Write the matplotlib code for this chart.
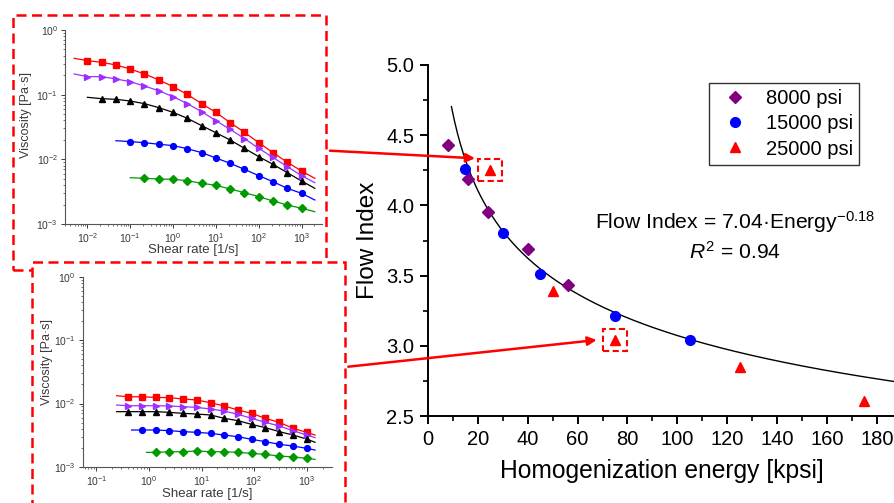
"""
Flow index vs homogenization energy, with two viscosity insets.
"""

import matplotlib
matplotlib.use("Agg")
import matplotlib.pyplot as plt
from matplotlib.patches import Rectangle, FancyArrowPatch
from matplotlib.ticker import MultipleLocator, LogLocator, NullFormatter, FixedLocator

plt.rcParams['font.family'] = ['Liberation Sans', 'DejaVu Sans']
plt.rcParams['mathtext.fontset'] = 'custom'
plt.rcParams['mathtext.rm'] = 'Liberation Sans'
plt.rcParams['mathtext.it'] = 'Liberation Sans:italic'
plt.rcParams['mathtext.bf'] = 'Liberation Sans:bold'

# =============================================================================
# DATA
# =============================================================================

# Main plot: flow index vs homogenization energy
ENERGY_8000 = [8, 16, 24, 40, 56]
FLOW_8000 = [4.43, 4.19, 3.95, 3.69, 3.43]
ENERGY_15000 = [15, 30, 45, 75, 105]
FLOW_15000 = [4.26, 3.80, 3.51, 3.21, 3.04]
ENERGY_25000 = [25, 50, 75, 125, 175]
FLOW_25000 = [4.25, 3.39, 3.04, 2.85, 2.61]
BOXED_25000 = [0, 2]          # points highlighted by a dashed box

FIT_A = 7.04
FIT_B = -0.18
FIT_RANGE = (9.4, 187)

LEGEND_LABELS = ["8000 psi", "15000 psi", "25000 psi"]

# Top inset: viscosity vs shear rate
TOP_SHEAR = [0.01, 0.0215, 0.0464, 0.1, 0.215, 0.464, 1, 2.15, 4.64, 10,
             21.5, 46.4, 100, 215, 464, 1000]
TOP_RED = [0.336, 0.316, 0.288, 0.249, 0.209, 0.169, 0.133, 0.101, 0.0726,
           0.0533, 0.0369, 0.0262, 0.0181, 0.0127, 0.0090, 0.0066]
TOP_PURPLE = [0.190, 0.190, 0.175, 0.159, 0.136, 0.115, 0.0931, 0.0726,
              0.0546, 0.0396, 0.0291, 0.0209, 0.0148, 0.0107, 0.0077, 0.0056]
TOP_BLACK = [0.0867, 0.0847, 0.0798, 0.0726, 0.0630, 0.0533, 0.0431, 0.0332,
             0.0258, 0.0199, 0.0148, 0.0110, 0.00837, 0.00622, 0.00462]
TOP_BLUE = [0.0188, 0.0181, 0.0171, 0.0163, 0.0146, 0.0127, 0.0105, 0.00867,
            0.00700, 0.00559, 0.00452, 0.00356, 0.00298]
TOP_GREEN = [0.00508, 0.00497, 0.00491, 0.00468, 0.00426, 0.00396, 0.00348,
             0.00305, 0.00265, 0.00227, 0.00197, 0.00175]
# fit lines: start point, and value at the common end shear rate
TOP_LINE_START = [(0.0049, 0.365), (0.0049, 0.209), (0.01, 0.091),
                  (0.0464, 0.0194), (0.1, 0.0052)]
TOP_LINE_END_X = 2040
TOP_LINE_END = [0.00508, 0.00435, 0.00356, 0.00235, 0.00155]
TOP_XTICKS = [1e-2, 1e-1, 1e0, 1e1, 1e2, 1e3]

# Bottom inset
BOT_SHEAR = [0.40, 0.74, 1.34, 2.44, 4.44, 8.07, 14.9, 27.1, 49.3, 89.7,
             163, 301, 548, 1000]
BOT_RED = [0.0128, 0.0128, 0.0125, 0.0124, 0.0118, 0.0114, 0.0103, 0.00915,
           0.00791, 0.00701, 0.00585, 0.00506, 0.00407, 0.00352]
BOT_PURPLE = [0.00925, 0.00925, 0.00925, 0.00915, 0.00893, 0.00871, 0.00820,
              0.00763, 0.00676, 0.00585, 0.00506, 0.00443, 0.00374, 0.00319]
BOT_BLACK = [0.00745, 0.00745, 0.00745, 0.00727, 0.00701, 0.00684, 0.00660,
             0.00585, 0.00537, 0.00470, 0.00417, 0.00361, 0.00319, 0.00276]
BOT_BLUE = [0.00383, 0.00383, 0.00374, 0.00361, 0.00352, 0.00339, 0.00319,
            0.00300, 0.00273, 0.00251, 0.00228, 0.00214, 0.00197]
BOT_GREEN = [0.00170, 0.00174, 0.00174, 0.00179, 0.00174, 0.00174, 0.00170,
             0.00164, 0.00158, 0.00149, 0.00144, 0.00137]
BOT_LINE_START = [(0.243, 0.0133), (0.243, 0.00948), (0.243, 0.00745),
                  (0.468, 0.00383), (0.90, 0.00170)]
BOT_LINE_END_X = 1440
BOT_LINE_END = [0.00319, 0.00290, 0.00245, 0.00185, 0.00132]
BOT_XTICKS = [1e-1, 1e0, 1e1, 1e2, 1e3]

INSET_YTICKS = [1e-3, 1e-2, 1e-1, 1e0]

# =============================================================================
# STYLE
# =============================================================================

W, H = 895, 503
RED = "#FF0000"
INSET_STYLES = [  # (color, marker) for red, purple, black, blue, green
    ("#FF0000", "s"),
    ("#9B30FF", ">"),
    ("#000000", "^"),
    ("#0000FF", "o"),
    ("#009A00", "D"),
]
TEXT_GREY = "#3a3a3a"


def px_rect(x0, y0, x1, y1):
    """Pixel box (top-left origin) -> figure fraction [l, b, w, h]."""
    return [x0 / W, 1 - y1 / H, (x1 - x0) / W, (y1 - y0) / H]


def draw_inset(fig, rect, xlim, xticks, shear, series, starts, end_x, ends,
               xlabel_y, ylabel_x, ylabel_y, zorder):
    ax = fig.add_axes(rect, zorder=zorder)
    ax.set_facecolor("none")
    ax.set_xscale("log")
    ax.set_yscale("log")
    ax.set_xlim(*xlim)
    ax.set_ylim(1e-3, 1.0)
    for side in ("top", "right"):
        ax.spines[side].set_visible(False)
    for side in ("left", "bottom"):
        ax.spines[side].set_linewidth(0.8)
        ax.spines[side].set_color("#555555")

    for (color, marker), vals, start, end in zip(INSET_STYLES, series,
                                                 starts, ends):
        xs = shear[len(shear) - len(vals):]
        ax.plot([start[0]] + list(xs) + [end_x], [start[1]] + list(vals) + [end],
                color=color, lw=0.9, zorder=2)
        ax.plot(xs, vals, ls="none", marker=marker, ms=4.2, color=color,
                zorder=3)

    ax.xaxis.set_major_locator(FixedLocator(xticks))
    ax.xaxis.set_minor_locator(LogLocator(base=10, subs=range(2, 10), numticks=20))
    ax.xaxis.set_minor_formatter(NullFormatter())
    ax.yaxis.set_major_locator(FixedLocator(INSET_YTICKS))
    ax.yaxis.set_minor_locator(LogLocator(base=10, subs=range(2, 10), numticks=20))
    ax.yaxis.set_minor_formatter(NullFormatter())
    ax.tick_params(which="major", direction="out", length=3, width=0.7,
                   labelsize=7.5, colors=TEXT_GREY, pad=2)
    ax.tick_params(which="minor", direction="out", length=1.6, width=0.5,
                   colors=TEXT_GREY)

    ax.set_xlabel("Shear rate [1/s]", fontsize=9.5, color=TEXT_GREY)
    ax.set_ylabel("Viscosity [Pa·s]", fontsize=9, color=TEXT_GREY)
    ax.xaxis.set_label_coords(0.5, xlabel_y)
    ax.yaxis.set_label_coords(ylabel_x, ylabel_y)
    return ax


def main():
    fig = plt.figure(figsize=(W / 100, H / 100), dpi=100)

    # --- dashed frames around the insets
    b1 = px_rect(12.7, 15, 326, 270)
    fig.add_artist(Rectangle((b1[0], b1[1]), b1[2], b1[3],
                             transform=fig.transFigure, fill=False,
                             edgecolor=RED, lw=1.8, ls=(0, (4, 2.2)), zorder=1))
    draw_inset(fig, px_rect(65, 30, 321.7, 224), (0.0030, 2950), TOP_XTICKS,
               TOP_SHEAR, [TOP_RED, TOP_PURPLE, TOP_BLACK, TOP_BLUE, TOP_GREEN],
               TOP_LINE_START, TOP_LINE_END_X, TOP_LINE_END,
               xlabel_y=-0.105, ylabel_x=-0.13, ylabel_y=0.56, zorder=2)

    b2 = px_rect(32, 261.5, 345.5, 530)
    fig.add_artist(Rectangle((b2[0], b2[1]), b2[2], b2[3],
                             transform=fig.transFigure, facecolor="white",
                             edgecolor=RED, lw=1.8, ls=(0, (4, 2.2)), zorder=3))
    draw_inset(fig, px_rect(82.7, 276.7, 331.7, 467), (0.055, 2985), BOT_XTICKS,
               BOT_SHEAR, [BOT_RED, BOT_PURPLE, BOT_BLACK, BOT_BLUE, BOT_GREEN],
               BOT_LINE_START, BOT_LINE_END_X, BOT_LINE_END,
               xlabel_y=-0.11, ylabel_x=-0.12, ylabel_y=0.55, zorder=4)

    # --- main plot
    ax = fig.add_axes(px_rect(428, 65, 895, 416), zorder=5)
    ax.set_facecolor("none")
    ax.set_xlim(0, 187.3)
    ax.set_ylim(2.5, 5.0)
    for side in ("top", "right"):
        ax.spines[side].set_visible(False)
    for side in ("left", "bottom"):
        ax.spines[side].set_linewidth(1.4)

    fit_x = [FIT_RANGE[0] + i * (FIT_RANGE[1] - FIT_RANGE[0]) / 300 for i in range(301)]
    fit_y = [FIT_A * x ** FIT_B for x in fit_x]
    ax.plot(fit_x, fit_y, color="black", lw=1.0, zorder=2)

    ax.plot(ENERGY_8000, FLOW_8000, ls="none", marker="D", ms=6.3,
            color="#800080", label=LEGEND_LABELS[0], zorder=3)
    ax.plot(ENERGY_15000, FLOW_15000, ls="none", marker="o", ms=7,
            color="#0000FF", label=LEGEND_LABELS[1], zorder=3)
    ax.plot(ENERGY_25000, FLOW_25000, ls="none", marker="^", ms=7.2,
            color=RED, label=LEGEND_LABELS[2], zorder=3)

    for i in BOXED_25000:
        bw, bh = 9.6, 0.157
        ax.add_patch(Rectangle((ENERGY_25000[i] - bw / 2, FLOW_25000[i] - bh / 2),
                               bw, bh, fill=False, edgecolor=RED, lw=1.5,
                               ls=(0, (3, 1.6)), zorder=4))

    ax.xaxis.set_major_locator(MultipleLocator(20))
    ax.xaxis.set_minor_locator(MultipleLocator(10))
    ax.yaxis.set_major_locator(MultipleLocator(0.5))
    ax.yaxis.set_minor_locator(MultipleLocator(0.25))
    ax.yaxis.set_major_formatter(plt.FormatStrFormatter("%.1f"))
    ax.tick_params(which="major", direction="out", length=6, width=1.4,
                   labelsize=14.5, pad=4)
    ax.tick_params(which="minor", direction="out", length=3.5, width=1.2)
    ax.set_xlabel("Homogenization energy [kpsi]", fontsize=17.7, labelpad=7)
    ax.set_ylabel("Flow Index", fontsize=17.5, labelpad=5)

    leg = ax.legend(loc="upper left", bbox_to_anchor=((709 - 428) / 467, (416 - 83) / 351),
                    borderaxespad=0, fancybox=False, edgecolor="black",
                    fontsize=14.5, handlelength=1.9, handletextpad=0.6,
                    labelspacing=0.3, borderpad=0.32)
    leg.get_frame().set_linewidth(1.0)

    fig.text(735 / W, 1 - 222 / H, "Flow Index = 7.04·Energy$^{-0.18}$",
             fontsize=15.2, ha="center", va="center")
    fig.text(735 / W, 1 - 252 / H, "$R^2$ = 0.94",
             fontsize=15.2, ha="center", va="center")

    # --- arrows from the insets to the highlighted points
    for (x0, y0), (x1, y1) in [((330, 150.7), (475, 158.3)),
                               ((348.3, 366.7), (596.7, 340))]:
        fig.add_artist(FancyArrowPatch((x0 / W, 1 - y0 / H), (x1 / W, 1 - y1 / H),
                                       transform=fig.transFigure,
                                       arrowstyle="-|>", mutation_scale=13,
                                       color=RED, lw=1.8, zorder=10,
                                       shrinkA=0, shrinkB=0))

    fig.savefig("out.png", dpi=100)


if __name__ == "__main__":
    main()
